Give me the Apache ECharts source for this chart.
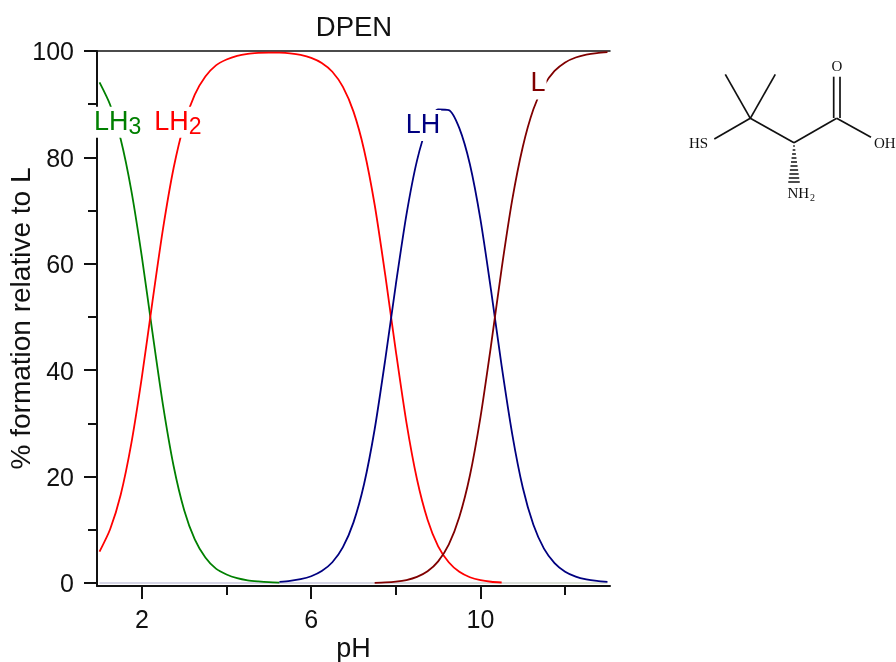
<!DOCTYPE html>
<html>
<head>
<meta charset="utf-8">
<style>html,body{margin:0;padding:0;background:#fff}#c{width:896px;height:662px}</style>
<script src="https://cdn.jsdelivr.net/npm/echarts@6/dist/echarts.min.js"></script>
</head>
<body>
<div id="c"></div>
<script>
const pH = [1,1.25,1.5,1.75,2,2.25,2.5,2.75,3,3.25,3.5,3.75,4,4.25,4.5,4.75,5,5.25,5.5,5.75,6,6.25,6.5,6.75,7,7.25,7.5,7.75,8,8.25,8.5,8.75,9,9.25,9.5,9.75,10,10.25,10.5,10.75,11,11.25,11.5,11.75,12,12.25,12.5,12.75,13];
const LH3 = [94.1,89.9,83.4,73.8,61.3,47.1,33.4,22.0,13.7,8.2,4.8,2.7,1.6,0.9,0.5,0.3,0.16,0.09];
const LH2 = [5.9,10.1,16.6,26.2,38.7,52.9,66.6,78.0,86.3,91.8,95.2,97.3,98.4,99.1,99.46,99.63,99.71,99.68,99.54,99.25,98.71,97.75,96.1,93.25,88.6,81.4,71.1,57.9,43.6,30.2,19.5,11.9,6.9,3.9,2.1,1.09,0.53,0.24,0.1];
const LH = [null,null,null,null,null,null,null,null,null,null,null,null,null,null,null,null,null,0.23,0.41,0.72,1.27,2.24,3.9,6.75,11.4,18.6,28.9,42.0,56.1,69.2,79.4,85.9,89.0,88.9,85.5,78.7,68.3,55.0,40.8,28.0,17.9,10.95,6.47,3.75,2.14,1.22,0.69,0.39,0.22];
const L = [null,null,null,null,null,null,null,null,null,null,null,null,null,null,null,null,null,null,null,null,null,null,null,null,null,null,0.04,0.11,0.26,0.56,1.15,2.2,4.07,7.2,12.4,20.2,31.2,44.7,59.1,72.0,82.0,89.05,93.5,96.25,97.86,98.78,99.31,99.61,99.78];
const baselineX = [1,13];
const baselineY = [0,0];
const xMajor = [2,6,10];
const xMinor = [4,8,12];
const yMajor = [0,20,40,60,80,100];
const yMinor = [10,30,50,70,90];
const curveLabels = [
  {name:'{m|LH}{s|3}', at:[1.43,86.6], color:'#008000'},
  {name:'{m|LH}{s|2}', at:[2.85,86.6], color:'#ff0000'},
  {name:'{m|LH}', at:[8.64,86.0], color:'#000080'},
  {name:'{m|L}', at:[11.36,93.8], color:'#800000'}
];
const zip = ys => pH.map((x,i)=>[x, ys[i]===undefined?null:ys[i]]).filter(p=>p[1]!==null);
const line = (ys,color)=>({type:'line',data:zip(ys),symbol:'none',smooth:0.25,clip:true,z:3,lineStyle:{color,width:1.8},silent:true});
const ink = '#111';
const font = 'Liberation Sans';
const serif = 'Liberation Serif';
const seg = (x1,y1,x2,y2,w)=>({type:'line',shape:{x1,y1,x2,y2},style:{stroke:'#111',lineWidth:w||1.7}});
const chem = (text,x,y,size,align)=>({type:'text',x,y,style:{text,fill:'#111',font:(size||15)+'px "'+serif+'"',textAlign:align||'left',textVerticalAlign:'middle'}});
const hash = [146,150,154,158,162,166,170,174,178,182].map((y,i)=>seg(794-(0.8+i*0.55),y,794+(0.8+i*0.55),y,1.5));

const chart = echarts.init(document.getElementById('c'),null,{renderer:'canvas'});
chart.setOption({
  animation:false,
  backgroundColor:'#fff',
  title:{text:'DPEN',left:349,top:9,textAlign:'center',textStyle:{fontFamily:font,fontSize:27.5,fontWeight:'normal',color:ink}},
  grid:{left:97,right:286,top:51,bottom:76,containLabel:false,outerBoundsMode:'none'},
  xAxis:[
    {type:'value',position:'bottom',min:0.94,max:13.06,name:'pH',nameLocation:'middle',nameGap:50,nameMoveOverlap:false,
     nameTextStyle:{fontFamily:font,fontSize:27,color:ink},
     axisLine:{show:true,onZero:false,lineStyle:{color:ink,width:2}},
     axisTick:{show:true,length:13,customValues:xMajor,lineStyle:{color:ink,width:2}},
     axisLabel:{show:true,customValues:xMajor,margin:23,fontFamily:font,fontSize:25,color:ink},
     splitLine:{show:false}},
    {type:'value',position:'bottom',min:0.94,max:13.06,
     axisLine:{show:false,onZero:false},
     axisTick:{show:true,length:9,customValues:xMinor,lineStyle:{color:ink,width:2}},
     axisLabel:{show:false},splitLine:{show:false}},
    {type:'value',position:'top',min:0.94,max:13.06,
     axisLine:{show:true,onZero:false,lineStyle:{color:ink,width:1.5}},
     axisTick:{show:false},axisLabel:{show:false},splitLine:{show:false}}
  ],
  yAxis:[
    {type:'value',position:'left',min:-0.56,max:100,name:'% formation relative to L',nameLocation:'middle',nameGap:61,nameMoveOverlap:false,
     nameTextStyle:{fontFamily:font,fontSize:28,color:ink},
     axisLine:{show:true,onZero:false,lineStyle:{color:ink,width:2}},
     axisTick:{show:true,length:13,customValues:yMajor,lineStyle:{color:ink,width:2}},
     axisLabel:{show:true,customValues:yMajor,margin:23,formatter:'{v|{value}}',
       rich:{v:{fontFamily:font,fontSize:25,color:ink,padding:[5,0,0,0]}}},
     splitLine:{show:false}},
    {type:'value',position:'left',min:-0.56,max:100,
     axisLine:{show:false,onZero:false},
     axisTick:{show:true,length:9,customValues:yMinor,lineStyle:{color:ink,width:2}},
     axisLabel:{show:false},splitLine:{show:false}}
  ],
  series:[
    {type:'line',data:baselineX.map((x,i)=>[x,baselineY[i]]),symbol:'none',z:2,silent:true,
     lineStyle:{width:2,color:{type:'linear',x:0,y:0,x2:1,y2:0,colorStops:[{offset:0,color:'#d6d6e6'},{offset:0.45,color:'#d6d6e6'},{offset:1,color:'#dfe5d6'}]}}},
    line(LH3,'#008000'),
    line(LH2,'#ff0000'),
    line(LH,'#000080'),
    line(L,'#800000'),
    {type:'scatter',symbolSize:0,z:5,silent:true,itemStyle:{opacity:1},
     data:curveLabels.map(c=>({value:c.at,itemStyle:{opacity:1},label:{
       show:true,position:'inside',formatter:c.name,backgroundColor:'#fff',padding:[1,1,1,1],opacity:1,
       rich:{m:{fontFamily:font,fontSize:27,color:c.color,verticalAlign:'middle',lineHeight:29},
             s:{fontFamily:font,fontSize:23,color:c.color,padding:[10,0,0,0],lineHeight:29}}
     }}))}
  ],
  graphic:[
    seg(725.3,74.3,750.3,118.3),seg(775.3,74.3,750.3,118.3),
    seg(750.3,118.3,714.3,139),seg(750.3,118.3,794,142.7),
    seg(794,142.7,836.7,118.3),seg(836.7,118.3,871,137.3),
    seg(833.7,76.7,833.7,118),seg(840,76.7,840,118),
    ...hash,
    chem('HS',689,144),chem('O',837,67,15,'center'),chem('OH',874,144),
    chem('NH',787.5,194),chem('2',810,198,10)
  ].map(g=>Object.assign(g,{silent:true,z:10}))
});
</script>
</body>
</html>
